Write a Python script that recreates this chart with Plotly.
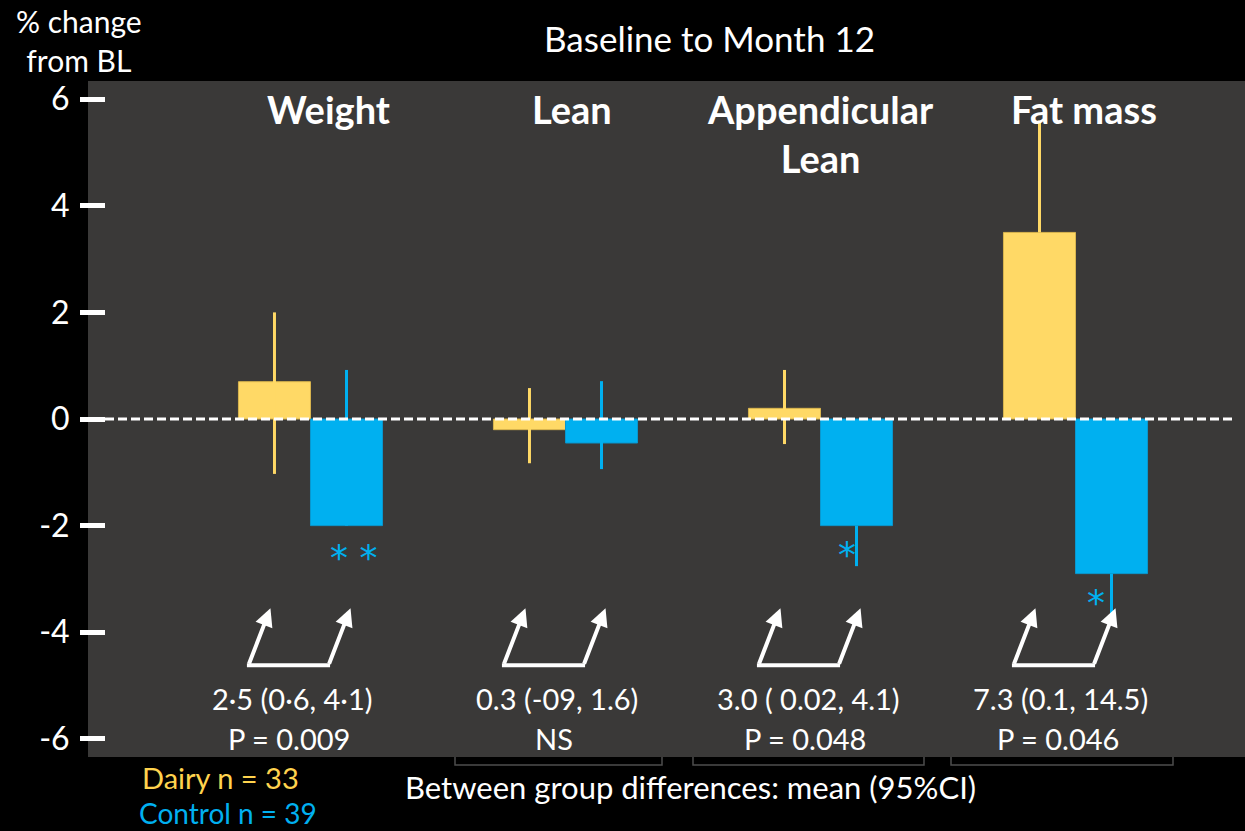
import plotly.graph_objects as go

# ---------------- data ----------------
categories = ["Weight", "Lean", "Appendicular<br>Lean", "Fat mass"]
dairy_values = [0.7, -0.2, 0.2, 3.5]
dairy_err_plus = [1.3, 0.78, 0.72, 2.1]
dairy_err_minus = [1.73, 0.63, 0.67, 0.0]
control_values = [-2.0, -0.45, -2.0, -2.9]
control_err_plus = [2.92, 1.16, 0.0, 0.0]
control_err_minus = [0.0, 0.49, 0.76, 0.85]
diff_labels = ["2·5 (0·6, 4·1)", "0.3 (-09, 1.6)", "3.0 ( 0.02, 4.1)", "7.3 (0.1, 14.5)"]
p_labels = ["P = 0.009", "NS", "P = 0.048", "P = 0.046"]
significance = ["* *", "", "*", "*"]
y_tick_vals = [6, 4, 2, 0, -2, -4, -6]
y_tick_text = ["6", "4", "2", "0", "-2", "-4", "-6"]

# ---------------- style ----------------
W, H = 1245, 831
ML, MR, MT, MB = 88, 0, 81, 74
PW, PH = W - ML - MR, H - MT - MB
X_RANGE = [-0.8725, 3.6647]
Y_RANGE = [-6.34, 6.34]
YELLOW = "#FFD966"
BLUE = "#00B0F0"
FONT = "Lato"
px_per_x = PW / (X_RANGE[1] - X_RANGE[0])
px_per_y = PH / (Y_RANGE[1] - Y_RANGE[0])


def pxx(px):
    return (px - ML) / PW


def pxy(py):
    return (MT + PH - py) / PH


xs = list(range(len(categories)))
bar_off = 0.157

fig = go.Figure()
fig.add_trace(go.Bar(
    x=xs, y=dairy_values, name="Dairy",
    marker=dict(color=YELLOW, line=dict(color="#D9B54E", width=1)),
    error_y=dict(type="data", symmetric=False, array=dairy_err_plus,
                 arrayminus=dairy_err_minus, color=YELLOW, thickness=3, width=0),
))
fig.add_trace(go.Bar(
    x=xs, y=control_values, name="Control",
    marker=dict(color=BLUE, line=dict(color="#0A98CF", width=1)),
    error_y=dict(type="data", symmetric=False, array=control_err_plus,
                 arrayminus=control_err_minus, color=BLUE, thickness=3, width=0),
))

ann = []
shapes = []

# zero dashed line
shapes.append(dict(type="line", xref="paper", yref="y", x0=pxx(105), x1=pxx(1236),
                   y0=0, y1=0, line=dict(color="white", width=3, dash="9px,4px"),
                   layer="above"))

# group titles
title_xshift = [18, 7, 0, 8]
for i, c in enumerate(categories):
    ann.append(dict(x=i, y=pxy(84), xref="x", yref="paper", text="<b>%s</b>" % c,
                    showarrow=False, xanchor="center", yanchor="top",
                    xshift=title_xshift[i],
                    font=dict(size=38, color="white", family=FONT)))

# difference text
diff_xshift = [-18, -8, -12, -15]
p_xshift = [-21, -11, -16, -18]
for i in xs:
    ann.append(dict(x=i, y=pxy(698), xref="x", yref="paper", text=diff_labels[i],
                    showarrow=False, xanchor="center", yanchor="middle",
                    xshift=diff_xshift[i],
                    font=dict(size=29, color="white", family=FONT)))
    ann.append(dict(x=i, y=pxy(738), xref="x", yref="paper", text=p_labels[i],
                    showarrow=False, xanchor="center", yanchor="middle",
                    xshift=p_xshift[i],
                    font=dict(size=29, color="white", family=FONT)))

# arrows and connecting baseline
tip_y = -3.55
tail_dx, tail_dy = -22, 57
for i in xs:
    for off in (-bar_off, bar_off):
        ann.append(dict(x=i + off, y=tip_y, xref="x", yref="y", text="",
                        showarrow=True, ax=tail_dx, ay=tail_dy, arrowhead=2,
                        arrowsize=0.9, arrowwidth=4, arrowcolor="white"))
    yb = tip_y - tail_dy / px_per_y
    shapes.append(dict(type="line", xref="x", yref="y",
                       x0=i - bar_off + tail_dx / px_per_x - 0.006,
                       x1=i + bar_off + tail_dx / px_per_x + 0.006,
                       y0=yb, y1=yb, line=dict(color="white", width=4)))

# significance asterisks
sig_xshift = [3, 0, -14, -20]
sig_yshift = [-7, -4, -4, -4]
for i in xs:
    if significance[i]:
        ann.append(dict(x=i + bar_off, y=control_values[i] - 0.47, xref="x", yref="y",
                        text=significance[i], showarrow=False, xanchor="center",
                        yanchor="middle", xshift=sig_xshift[i], yshift=sig_yshift[i],
                        font=dict(size=36, color=BLUE, family="DejaVu Sans")))

# header texts
ann.append(dict(x=pxx(709), y=pxy(38), xref="paper", yref="paper",
                text="Baseline to Month 12", showarrow=False, xanchor="center",
                yanchor="middle", font=dict(size=35, color="white", family=FONT)))
ann.append(dict(x=pxx(79), y=pxy(41), xref="paper", yref="paper",
                text="% change<br>from BL", showarrow=False, xanchor="center",
                yanchor="middle", font=dict(size=30, color="white", family=FONT)))

# legend-like texts
ann.append(dict(x=pxx(141), y=pxy(796), xref="paper", yref="paper",
                text="Dairy n = 33", showarrow=False, xanchor="left",
                yanchor="bottom", borderpad=0,
                font=dict(size=29, color="#FFD34E", family=FONT)))
ann.append(dict(x=pxx(138), y=pxy(795), xref="paper", yref="paper",
                text="Control n = 39", showarrow=False, xanchor="left",
                yanchor="top", borderpad=0,
                font=dict(size=28, color=BLUE, family=FONT)))
ann.append(dict(x=pxx(690), y=pxy(787), xref="paper", yref="paper",
                text="Between group differences: mean (95%CI)", showarrow=False,
                xanchor="center", yanchor="middle",
                font=dict(size=31, color="white", family=FONT)))

# faint brackets under plot
for (a, b) in [(455, 662), (693, 924), (951, 1173)]:
    shapes.append(dict(type="path", xref="paper", yref="paper",
                       path="M %f %f L %f %f L %f %f L %f %f" % (
                           pxx(a), pxy(757), pxx(a), pxy(765), pxx(b), pxy(765), pxx(b), pxy(757)),
                       line=dict(color="#4d4d4d", width=1.5)))

fig.update_layout(
    width=W, height=H,
    margin=dict(l=ML, r=MR, t=MT, b=MB, autoexpand=False),
    paper_bgcolor="black", plot_bgcolor="#3A3938",
    barmode="group", bargap=0.435, bargroupgap=0,
    showlegend=False,
    font=dict(family=FONT, color="white"),
    annotations=ann, shapes=shapes,
    xaxis=dict(range=X_RANGE, showgrid=False, zeroline=False, showticklabels=False,
               ticks="", showline=False),
    yaxis=dict(range=Y_RANGE, showgrid=False, zeroline=False, showline=False,
               tickvals=y_tick_vals, ticktext=y_tick_text, ticks="outside",
               ticklen=25, tickwidth=5, tickcolor="white", anchor="free",
               position=17 / PW, ticklabelstandoff=4,
               tickfont=dict(size=32, color="white", family=FONT)),
)

fig.write_html("out.html", config={"displayModeBar": False},
               post_script="document.body.style.margin='0';document.body.style.background='black';")
